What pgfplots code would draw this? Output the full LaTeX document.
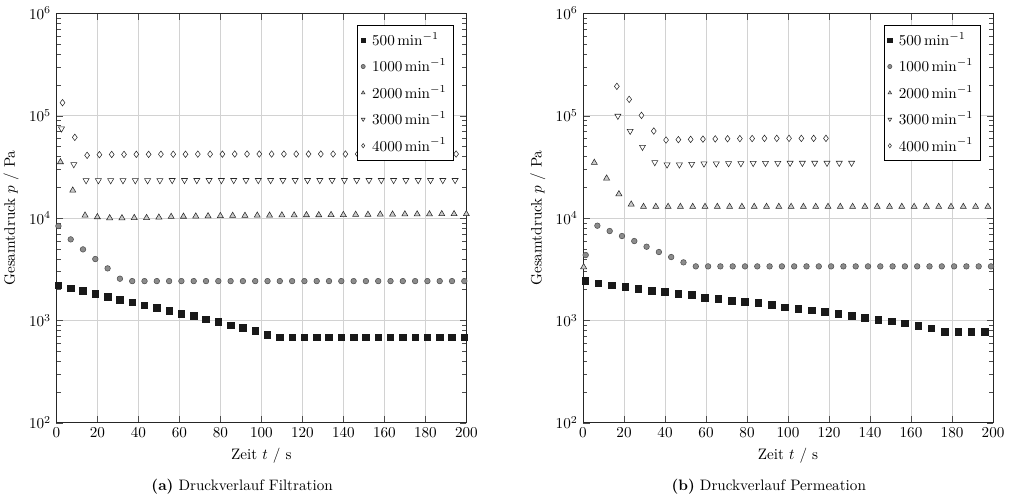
\documentclass[border=0pt]{standalone}
\usepackage{pgfplots}
\pgfplotsset{compat=1.18}
\pgfplotsset{
  s500/.style={only marks, mark=square*, mark size=2.15pt, mark options={fill=black!90, draw=black!90}},
  s1000/.style={only marks, mark=*, mark size=1.85pt, mark options={fill=gray!90!white, draw=black!70, line width=0.35pt}},
  s2000/.style={only marks, mark=triangle*, mark size=2.3pt, mark options={fill=gray!40, draw=black!85, line width=0.35pt}},
  s3000/.style={only marks, mark=triangle*, mark size=2.3pt, mark options={rotate=180, fill=white, draw=black!85, line width=0.35pt}},
  s4000/.style={only marks, mark=diamond*, mark size=2.15pt, mark options={fill=white, draw=black!85, line width=0.35pt}},
}
\begin{document}
\begin{tikzpicture}
\path[use as bounding box] (-37.2pt,-50.4pt) rectangle (629.4pt,279pt);
% ---------------- (a) Filtration
\begin{axis}[at={(0pt,0pt)}, anchor=south west,
    width=270.6pt, height=270.2pt, scale only axis,
    ymode=log, xmin=0, xmax=200, ymin=1e2, ymax=1e6,
    xtick={0,20,...,200},
    ytick={1e2,1e3,1e4,1e5,1e6},
    grid=major,
    major grid style={gray!35, line width=0.5pt},
    axis line style={black!85, line width=0.5pt},
    tick style={black!70},
    xlabel={Zeit $t$ / s},
    ylabel={Gesamtdruck $p$ / Pa},
    clip=false,
    legend style={at={(0.969,0.971)}, anchor=north east, draw=black, line width=0.5pt,
      font=\normalsize, row sep=3.2pt, column sep=2.5pt, inner xsep=2.5pt, inner ysep=2.5pt},
    legend cell align=left,
    legend image post style={mark size=1.4pt}]
\addplot[s500] coordinates {
(1,2200)(7,2054)(13,1950)(19,1822)(25,1703)(31,1592)(37,1499)(43,1402)(49,1320)(55,1243)
(61,1162)(67,1102)(73,1030)(79,963)(85,894)(91,848)(97,793)(103,724)(109,682)(115,682)
(121,682)(127,682)(133,682)(139,682)(145,682)(151,682)(157,682)(163,682)(169,682)(175,682)
(181,682)(187,682)(193,682)(199,682)};
\addlegendentry{$500\,\mathrm{min}^{-1}$}
\addplot[s1000] coordinates {
(1,8356)(7,6187)(13,4940)(19,3975)(25,3222)(31,2554)(37,2420)(43,2420)(49,2420)(55,2420)
(61,2420)(67,2420)(73,2420)(79,2420)(85,2420)(91,2420)(97,2420)(103,2420)(109,2420)(115,2420)
(121,2420)(127,2420)(133,2420)(139,2420)(145,2420)(151,2420)(157,2420)(163,2420)(169,2420)(175,2420)
(181,2420)(187,2420)(193,2420)(199,2420)};
\addlegendentry{$1000\,\mathrm{min}^{-1}$}
\addplot[s2000] coordinates {
(2,35260)(8,18630)(14,10620)(20,10230)(26,10000)(32,10000)(38,10050)(44,10050)(50,10150)(56,10300)
(62,10350)(68,10400)(74,10450)(80,10500)(86,10550)(92,10550)(98,10600)(104,10600)(110,10650)(116,10650)
(122,10700)(128,10700)(134,10750)(140,10750)(146,10800)(152,10800)(158,10850)(164,10850)(170,10900)(176,10900)
(182,10900)(188,10950)(194,10950)(200,10950)};
\addlegendentry{$2000\,\mathrm{min}^{-1}$}
\addplot[s3000] coordinates {
(2.5,74640)(8.5,33430)(14.5,23300)(20.5,23300)(26.5,23300)(32.5,23300)(38.5,23300)(44.5,23300)(50.5,23300)(56.5,23400)
(62.5,23400)(68.5,23400)(74.5,23400)(80.5,23400)(86.5,23400)(92.5,23400)(98.5,23400)(104.5,23400)(110.5,23400)(116.5,23400)
(122.5,23400)(128.5,23400)(134.5,23400)(140.5,23400)(146.5,23400)(152.5,23400)(158.5,23400)(164.5,23400)(170.5,23400)(176.5,23400)
(182.5,23400)(188.5,23400)(194.5,23400)};
\addlegendentry{$3000\,\mathrm{min}^{-1}$}
\addplot[s4000] coordinates {
(3,133900)(9,61400)(15,40980)(21,41570)(27,41800)(33,41800)(39,41900)(45,41900)(51,42000)(57,42000)
(63,42000)(69,42100)(75,42100)(81,42100)(87,42200)(93,42200)(99,42200)(105,42200)(111,42200)(117,42200)
(123,42200)(129,42200)(135,42200)(141,42200)(147,42200)(153,42200)(159,42200)(165,42200)(171,42200)(177,42200)
(183,42200)(189,42200)(195,42200)};
\addlegendentry{$4000\,\mathrm{min}^{-1}$}
\end{axis}
\node at (122.6pt,-42.2pt) {\textbf{(a)} Druckverlauf Filtration};
% ---------------- (b) Permeation
\begin{axis}[at={(347.6pt,0pt)}, anchor=south west,
    width=270.6pt, height=270.2pt, scale only axis,
    ymode=log, xmin=0, xmax=200, ymin=1e2, ymax=1e6,
    xtick={0,20,...,200},
    ytick={1e2,1e3,1e4,1e5,1e6},
    grid=major,
    major grid style={gray!35, line width=0.5pt},
    axis line style={black!85, line width=0.5pt},
    tick style={black!70},
    xlabel={Zeit $t$ / s},
    ylabel={Gesamtdruck $p$ / Pa},
    clip=false,
    legend style={at={(0.969,0.971)}, anchor=north east, draw=black, line width=0.5pt,
      font=\normalsize, row sep=3.2pt, column sep=2.5pt, inner xsep=2.5pt, inner ysep=2.5pt},
    legend cell align=left,
    legend image post style={mark size=1.4pt}]
\addplot[s500] coordinates {
(1,2442)(7.5,2299)(14,2198)(20.5,2117)(27,2024)(33.5,1934)(40,1906)(46.5,1808)(53,1768)(59.5,1665)
(66,1616)(72.5,1556)(79,1511)(85.5,1477)(92,1412)(98.5,1340)(105,1300)(111.5,1252)(118,1206)(124.5,1162)
(131,1111)(137.5,1062)(144,1015)(150.5,978)(157,935)(163.5,887)(170,841)(176.5,769)(183,769)(189.5,769)(196,769)};
\addlegendentry{$500\,\mathrm{min}^{-1}$}
\addplot[s1000] coordinates {
(1.3,4348)(7,8414)(13,7464)(19,6670)(25,5958)(31,5245)(37,4654)(43,4157)(49,3689)(55,3371)
(61,3370)(67,3370)(73,3370)(79,3370)(85,3370)(91,3370)(97,3370)(103,3370)(109,3370)(115,3370)
(121,3370)(127,3370)(133,3370)(139,3370)(145,3370)(151,3370)(157,3370)(163,3370)(169,3370)(175,3370)
(181,3370)(187,3370)(193,3370)(199,3370)};
\addlegendentry{$1000\,\mathrm{min}^{-1}$}
\addplot[s2000] coordinates {
(0.3,3320)(5.5,34750)(11.5,24420)(17.5,17160)(23.5,13600)(29.5,12900)(35.5,12900)(41.5,12900)(47.5,12900)(53.5,12900)
(59.5,12900)(65.5,12900)(71.5,12900)(77.5,12900)(83.5,12900)(89.5,12900)(95.5,12900)(101.5,12900)(107.5,12900)(113.5,12900)
(119.5,12900)(125.5,12900)(131.5,12900)(137.5,12900)(143.5,12900)(149.5,12900)(155.5,12900)(161.5,12900)(167.5,12900)(173.5,12900)
(179.5,12900)(185.5,12900)(191.5,12900)(197.5,12900)};
\addlegendentry{$2000\,\mathrm{min}^{-1}$}
\addplot[s3000] coordinates {
(17,99300)(23,70800)(29,49400)(35,35000)(41,33200)(47,33200)(53,33700)(59,33960)(65,34000)(71,34200)
(77,34200)(83,34400)(89,34400)(95,34400)(101,34500)(107,34500)(113,34500)(119,34500)(125,34500)(131,34500)};
\addlegendentry{$3000\,\mathrm{min}^{-1}$}
\addplot[s4000] coordinates {
(16.5,193500)(22.5,144400)(28.5,100700)(34.5,70800)(40.5,57800)(46.5,58300)(52.5,58700)(58.5,59000)(64.5,59300)(70.5,59500)
(76.5,59700)(82.5,59800)(88.5,60000)(94.5,60000)(100.5,60000)(106.5,60000)(112.5,60000)(118.5,60000)};
\addlegendentry{$4000\,\mathrm{min}^{-1}$}
\end{axis}
\node at (470.2pt,-42.2pt) {\textbf{(b)} Druckverlauf Permeation};
\end{tikzpicture}
\end{document}
